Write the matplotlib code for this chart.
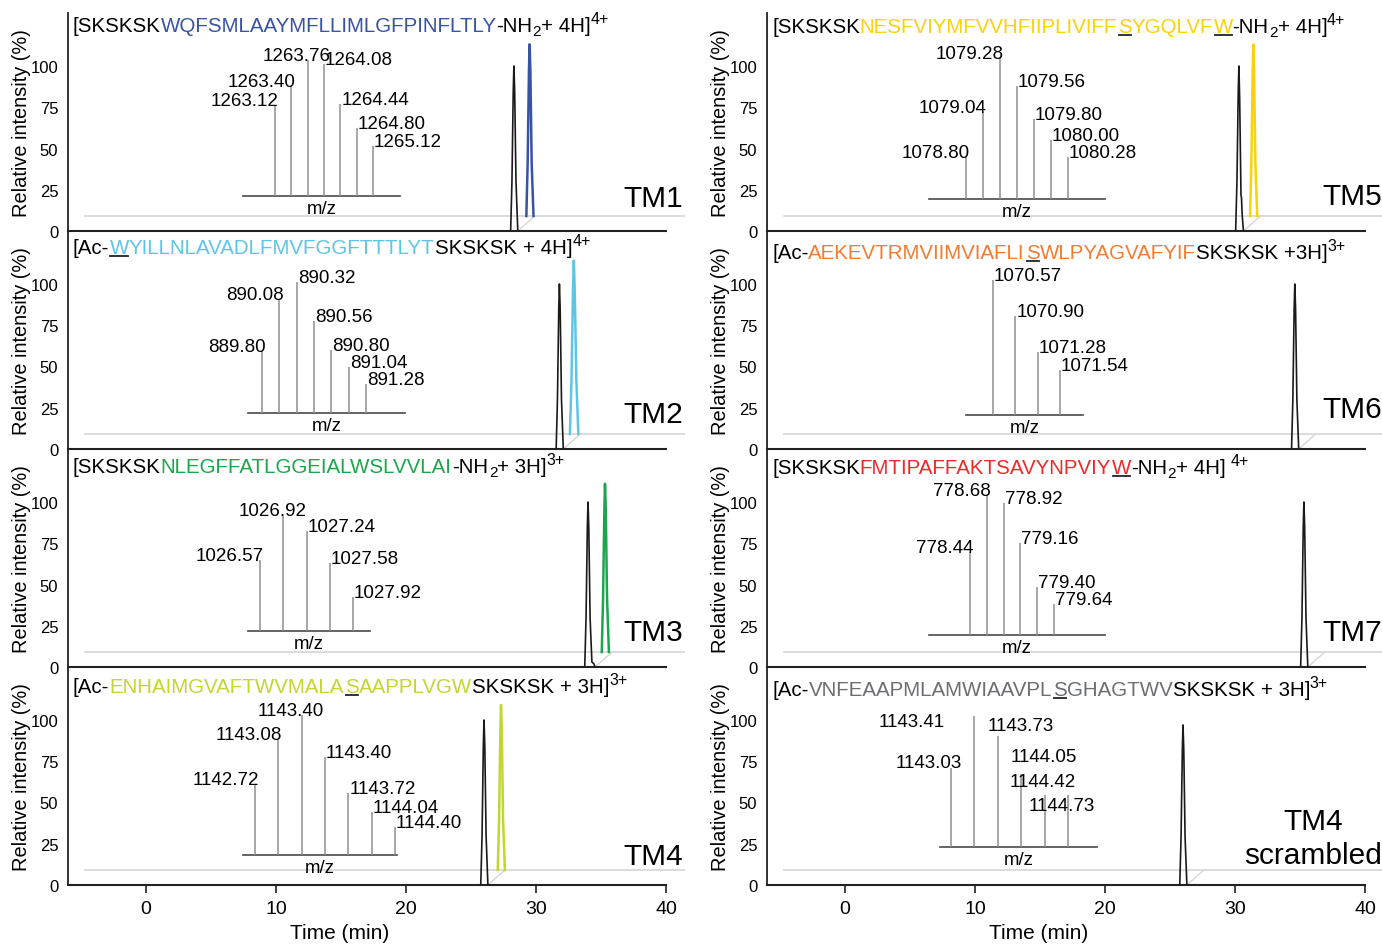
import matplotlib
matplotlib.use("Agg")
import matplotlib.pyplot as plt
from matplotlib.lines import Line2D
from matplotlib.transforms import offset_copy, IdentityTransform
from matplotlib import font_manager

try:
    from matplotlib.ft2font import LoadFlags, Kerning
    NOHINT, KDEF = LoadFlags.NO_HINTING, Kerning.DEFAULT
except ImportError:
    from matplotlib.ft2font import LOAD_NO_HINTING as NOHINT, KERNING_DEFAULT as KDEF

plt.rcParams['font.family'] = ['Liberation Sans', 'DejaVu Sans']

# ---------------- extracted ion chromatograms (min, %) ----------------
tm1_rt = [28.05, 28.15, 28.25, 28.30, 28.36, 28.46, 28.60]
tm1_int = [0, 30, 85, 100, 85, 30, 0]
tm1_std_rt = [27.95, 28.05, 28.15, 28.20, 28.26, 28.36, 28.50]
tm1_std_int = [0, 32, 88, 104, 88, 32, 0]

tm2_rt = [31.55, 31.65, 31.75, 31.80, 31.86, 31.96, 32.10]
tm2_int = [0, 30, 85, 100, 85, 30, 0]
tm2_std_rt = [31.30, 31.42, 31.54, 31.60, 31.67, 31.80, 31.95]
tm2_std_int = [0, 32, 88, 105, 88, 32, 0]

tm3_rt = [33.75, 33.85, 33.95, 34.00, 34.06, 34.16, 34.30, 34.45, 34.55]
tm3_int = [0, 30, 85, 100, 85, 30, 3, 2, 0]
tm3_std_rt = [33.75, 33.85, 33.95, 34.00, 34.06, 34.16, 34.30]
tm3_std_int = [0, 32, 86, 102, 86, 32, 0]

tm4_rt = [25.75, 25.85, 25.95, 26.00, 26.06, 26.16, 26.30]
tm4_int = [0, 30, 85, 100, 85, 30, 0]
tm4_std_rt = [25.75, 25.85, 25.95, 26.00, 26.06, 26.16, 26.30]
tm4_std_int = [0, 30, 85, 100, 85, 30, 0]

tm5_rt = [30.05, 30.15, 30.25, 30.30, 30.36, 30.46, 30.50, 30.55, 30.65]
tm5_int = [0, 30, 85, 100, 80, 22, 20, 10, 0]
tm5_std_rt = [29.85, 29.95, 30.05, 30.10, 30.16, 30.26, 30.40]
tm5_std_int = [0, 32, 88, 104, 88, 32, 0]

tm6_rt = [34.35, 34.45, 34.55, 34.60, 34.66, 34.76, 34.90]
tm6_int = [0, 30, 85, 100, 85, 30, 0]

tm7_rt = [35.05, 35.15, 35.25, 35.30, 35.36, 35.46, 35.60]
tm7_int = [0, 30, 85, 100, 85, 30, 0]

tm4s_rt = [25.75, 25.85, 25.95, 26.00, 26.06, 26.16, 26.30]
tm4s_int = [0, 29, 82, 97, 82, 29, 0]

# ---------------- isotope envelopes (m/z label, relative %) ----------------
tm1_mz = ['1263.12', '1263.40', '1263.76', '1264.08', '1264.44', '1264.80', '1265.12']
tm1_ms = [67, 81, 100, 97, 68, 50, 37]
tm2_mz = ['889.80', '890.08', '890.32', '890.56', '890.80', '891.04', '891.28']
tm2_ms = [47, 87, 100, 70, 48, 35, 22]
tm3_mz = ['1026.57', '1026.92', '1027.24', '1027.58', '1027.92']
tm3_ms = [61, 100, 86, 59, 29]
tm4_mz = ['1142.72', '1143.08', '1143.40', '1143.40', '1143.72', '1144.04', '1144.40']
tm4_ms = [51, 83, 100, 70, 44, 31, 20]
tm5_mz = ['1078.80', '1079.04', '1079.28', '1079.56', '1079.80', '1080.00', '1080.28']
tm5_ms = [30, 62, 100, 80, 57, 42, 30]
tm6_mz = ['1070.57', '1070.90', '1071.28', '1071.54']
tm6_ms = [100, 73, 47, 33]
tm7_mz = ['778.44', '778.68', '778.92', '779.16', '779.40', '779.64']
tm7_ms = [59, 100, 94, 66, 34, 22]
tm4s_mz = ['1143.03', '1143.41', '1143.73', '1144.05', '1144.42', '1144.73']
tm4s_ms = [60, 100, 85, 56, 40, 40]

x_ticks = [0, 10, 20, 30, 40]
y_ticks = [0, 25, 50, 75, 100]

# ---------------- layout (pixels) ----------------
AXW, AXH = 617, 218
COL_X = [68, 767]
ROW_BASE = [232, 450, 668, 886]
XMIN, PX_MIN, PX_PCT = -6, 13.0, 1.65
DX = 17 / PX_MIN     # depth offset of the back plane (min)
DY = 15 / PX_PCT     # depth offset (%)

panels = [
    dict(col=0, row=0, name='TM1', color='#3953a4', rt=tm1_rt, it=tm1_int,
         srt=tm1_std_rt, sit=tm1_std_int, mz=tm1_mz, ms=tm1_ms, sides='LLCRRRR',
         inset=(175, 332, 35, 207, 305, 136), tpx=18, lpx=33,
         title=[('[SKSKSK', 'k'), ('WQFSMLAAYMFLLIMLGFPINFLTLY', 'c'), ('-NH', 'k'),
                ('2', 'sub'), ('+ 4H]', 'k'), ('4+', 'sup')]),
    dict(col=0, row=1, name='TM2', color='#5ec4e8', rt=tm2_rt, it=tm2_int,
         srt=tm2_std_rt, sit=tm2_std_int, mz=tm2_mz, ms=tm2_ms, sides='LLRRRRR',
         inset=(180, 337, 36, 194, 298, 131), tpx=22, lpx=35,
         title=[('[Ac-', 'k'), ('W', 'u'), ('YILLNLAVADLFMVFGGFTTTLYT', 'c'),
                ('SKSKSK + 4H]', 'k'), ('4+', 'sup')]),
    dict(col=0, row=2, name='TM3', color='#1ba64b', rt=tm3_rt, it=tm3_int,
         srt=tm3_std_rt, sit=tm3_std_int, mz=tm3_mz, ms=tm3_ms, sides='LCRRR',
         inset=(180, 302, 36, 192, 285, 116), tpx=23, lpx=35,
         title=[('[SKSKSK', 'k'), ('NLEGFFATLGGEIALWSLVVLAI', 'c'), ('-NH', 'k'),
                ('2', 'sub'), ('+ 3H]', 'k'), ('3+', 'sup')]),
    dict(col=0, row=3, name='TM4', color='#c3d62f', rt=tm4_rt, it=tm4_int,
         srt=tm4_std_rt, sit=tm4_std_int, mz=tm4_mz, ms=tm4_ms, sides='LLCRRRR',
         inset=(175, 329, 30, 187, 327, 140), tpx=25, lpx=29,
         title=[('[Ac-', 'k'), ('ENHAIMGVAFTWVMALA', 'c'), ('S', 'u'), ('AAPPLVGW', 'c'),
                ('SKSKSK + 3H]', 'k'), ('3+', 'sup')]),
    dict(col=1, row=0, name='TM5', color='#fbd20a', rt=tm5_rt, it=tm5_int,
         srt=tm5_std_rt, sit=tm5_std_int, mz=tm5_mz, ms=tm5_ms, sides='LLLRRRR',
         inset=(162, 338, 32, 199, 301, 141), tpx=19, lpx=35,
         title=[('[SKSKSK', 'k'), ('NESFVIYMFVVHFIIPLIVIFF', 'c'), ('S', 'u'), ('YGQLVF', 'c'),
                ('W', 'u'), ('-NH', 'k'), ('2', 'sub'), ('+ 4H]', 'k'), ('4+', 'sup')]),
    dict(col=1, row=1, name='TM6', color='#f47b30', rt=tm6_rt, it=tm6_int,
         srt=None, sit=None, mz=tm6_mz, ms=tm6_ms, sides='RRRR',
         inset=(199, 316, 34, 226, 293, 135), tpx=27, lpx=40,
         title=[('[Ac-', 'k'), ('AEKEVTRMVIIMVIAFLI', 'c'), ('S', 'u'), ('WLPYAGVAFYIF', 'c'),
                ('SKSKSK +3H]', 'k'), ('3+', 'sup')]),
    dict(col=1, row=2, name='TM7', color='#ec2a26', rt=tm7_rt, it=tm7_int,
         srt=None, sit=None, mz=tm7_mz, ms=tm7_ms, sides='LLRRRR',
         inset=(162, 338, 32, 203, 287, 140), tpx=24, lpx=35,
         title=[('[SKSKSK', 'k'), ('FMTIPAFFAKTSAVYNPVIY', 'c'), ('W', 'u'), ('-NH', 'k'),
                ('2', 'sub'), ('+ 4H] ', 'k'), ('4+', 'sup')]),
    dict(col=1, row=3, name='TM4\nscrambled', color='#6d6e71', rt=tm4s_rt, it=tm4s_int,
         srt=None, sit=None, mz=tm4s_mz, ms=tm4s_ms, sides='LLRRRR',
         dxs=[11, -30, -10, -11, -35, -39], dys=[1, -10, 6, 13, 9, -15],
         inset=(173, 330, 38, 184, 301, 131), tpx=28, lpx=47,
         title=[('[Ac-', 'k'), ('VNFEAAPMLAMWIAAVPL', 'c'), ('S', 'u'), ('GHAGTWV', 'c'),
                ('SKSKSK + 3H]', 'k'), ('3+', 'sup')]),
]

fig = plt.figure(figsize=(13.82, 9.45), dpi=100)
FW, FH = 1382, 945
DPI = 100

TAG_FONT, TAG_SIZE = ['Liberation Sans'], 21.5
_font_path = font_manager.findfont(font_manager.FontProperties(family='Liberation Sans'))


def advance(s, size):
    """Pen advance (pixels) of a string, including kerning."""
    f = font_manager.get_font(_font_path)
    f.set_size(size, DPI)
    tot, prev = 0.0, None
    for ch in s:
        gi = f.get_char_index(ord(ch))
        if prev is not None:
            tot += f.get_kerning(prev, gi, KDEF) / 64.0
        g = f.load_char(ord(ch), flags=NOHINT)
        tot += g.linearHoriAdvance / 65536.0
        prev = gi
    return tot


def draw_title(ax, pieces, color, top_px):
    x, y = 5 / AXW, 1 - top_px / AXH
    shift = 0.0
    main = 14.8
    prev_txt, prev_size = None, None
    for txt, role in pieces:
        size, dy, c = main, 0, 'black'
        if role in ('c', 'u'):
            c = color
        elif role == 'sub':
            size, dy = 11, -4
        elif role == 'sup':
            size, dy = 11.5, 8
        if prev_txt is not None and prev_size == size:
            shift += advance(prev_txt[-1] + txt[0], size) - advance(prev_txt[-1], size) \
                - advance(txt[0], size)
        tr = offset_copy(ax.transAxes, fig=fig, x=shift, y=dy, units='dots')
        ax.text(x, y, txt, color=c, fontsize=size, transform=tr,
                ha='left', va='baseline', clip_on=False)
        w = advance(txt, size)
        if role == 'u':
            x0d, yb = ax.transAxes.transform((x, y))
            fig.add_artist(Line2D([x0d + shift + 1, x0d + shift + w - 1], [yb - 3, yb - 3],
                                  color='#222222', lw=1.3, transform=IdentityTransform()))
        shift += w
        prev_txt, prev_size = txt, size


for p in panels:
    left = COL_X[p['col']] / FW
    bottom = (FH - ROW_BASE[p['row']]) / FH
    ax = fig.add_axes([left, bottom, AXW / FW, AXH / FH])
    ax.patch.set_alpha(0)
    ax.set_xlim(XMIN, XMIN + AXW / PX_MIN)
    ax.set_ylim(0, AXH / PX_PCT)
    for s in ('top', 'right'):
        ax.spines[s].set_visible(False)
    ax.spines['left'].set_linewidth(1.3)
    ax.spines['left'].set_color('#222222')
    ax.spines['bottom'].set_linewidth(1.5)
    ax.spines['bottom'].set_color('#222222')
    ax.spines['bottom'].set_bounds(XMIN, 40)
    ax.set_yticks(y_ticks)
    ax.tick_params(axis='y', length=0, pad=7, labelsize=12)
    if p['row'] == 3:
        ax.set_xticks(x_ticks)
        ax.tick_params(axis='x', length=6, width=1.2, pad=5, labelsize=14, color='#222222')
        ax.set_xlabel('Time (min)', fontsize=15)
        ax.xaxis.set_label_coords(0.44, -38 / AXH)
    else:
        ax.set_xticks([])
    ax.set_ylabel('Relative intensity (%)', fontsize=14.4)
    ax.yaxis.set_label_coords(-37 / AXW, 0.5)

    # back plane baseline and depth connector
    ax.plot([XMIN + DX, XMIN + AXW / PX_MIN + DX], [DY, DY], color='#d6d6d6', lw=1.2, zorder=1)
    xr = p['rt'][-1]
    ax.plot([xr, xr + DX], [0, DY], color='#d6d6d6', lw=1.0, zorder=1)
    # traces
    ax.plot(p['rt'], p['it'], color='#1a1a1a', lw=1.2, zorder=3)
    if p['srt'] is not None:
        tr = offset_copy(ax.transData, fig=fig, x=17, y=15, units='dots')
        ax.plot(p['srt'], p['sit'], color=p['color'], lw=1.8, zorder=2, transform=tr)

    ax.text(1 - 2 / AXW, p['lpx'] / AXH, p['name'], transform=ax.transAxes, ha='right',
            va='center', fontsize=TAG_SIZE, family=TAG_FONT, multialignment='center',
            linespacing=1.3)

    draw_title(ax, p['title'], p['color'], p['tpx'])

    # isotope envelope inset
    bx0, bx1, by, f0, f1, full = p['inset']
    n = len(p['ms'])
    step = (f1 - f0) / (n - 1)
    ins = ax.inset_axes([bx0 / AXW, by / AXH, (bx1 - bx0) / AXW, full / AXH])
    ins.set_xlim((bx0 - f0) / step, (n - 1) + (bx1 - f1) / step)
    ins.set_ylim(0, 100)
    ins.axis('off')
    ins.axhline(0, color='#4a4a4a', lw=1.2, clip_on=False)
    idx = list(range(n))
    ins.vlines(idx, 0, p['ms'], color='#8f8f8f', lw=1.1)
    for i, (lab, h, sd) in enumerate(zip(p['mz'], p['ms'], p['sides'])):
        if sd == 'L':
            ha, dx = 'right', 4
        elif sd == 'R':
            ha, dx = 'left', 1
        else:
            ha, dx = 'center', -11
        dyp = 0
        if 'dxs' in p:
            dx, dyp = p['dxs'][i], p['dys'][i]
        ins.annotate(lab, (i, h), xytext=(dx * 0.72, dyp * 0.72), textcoords='offset points',
                     ha=ha, va='baseline', fontsize=13.5, annotation_clip=False)
    ins.text(0.5, -4 / full, 'm/z', transform=ins.transAxes, ha='center', va='top',
             fontsize=13.4)

fig.savefig('out.png', dpi=DPI)
